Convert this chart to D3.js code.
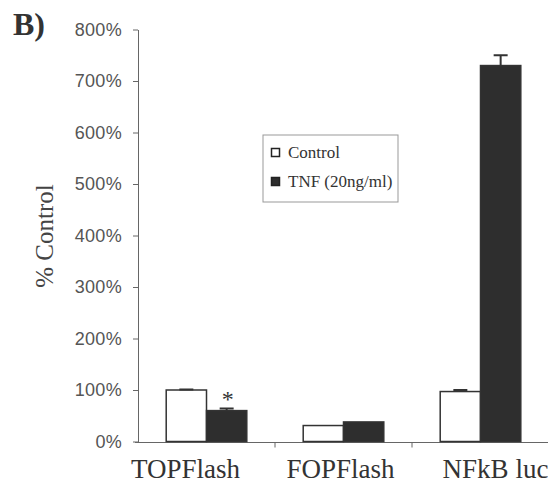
<!DOCTYPE html>
<html><head><meta charset="utf-8">
<script src="https://cdn.jsdelivr.net/npm/d3@7"></script>
<style>body{margin:0;background:#fff}</style>
</head><body>
<svg id="c" width="548" height="484"></svg>
<script>
const categories = ["TOPFlash", "FOPFlash", "NFkB luc"];
const seriesNames = ["Control", "TNF (20ng/ml)"];
const controlValues = [100, 31, 97];
const controlErrors = [1, 0, 3];
const tnfValues = [60, 38, 730];
const tnfErrors = [4, 0, 20];
const yTicks = [0, 100, 200, 300, 400, 500, 600, 700, 800];

(function () {
const svg = d3.select("#c");
const pLeft = 138, pRight = 549, pTop = 29.5, pBottom = 441.5;
const x = d3.scaleBand().domain(categories).range([pLeft, pRight]);
const xs = d3.scaleBand().domain(seriesNames).range([0, x.bandwidth()]).paddingInner(0).paddingOuter(0.7);
const y = d3.scaleLinear().domain([0, 800]).range([pBottom, pTop]);
const labelNudge = [-21, -3, 15];

// y axis
const yAxis = svg.append("g").attr("transform", `translate(${pLeft},0)`)
  .call(d3.axisLeft(y).tickValues(yTicks).tickFormat(d => d + "%").tickSize(5).tickSizeOuter(0));
yAxis.select(".domain").attr("stroke", "#666");
yAxis.selectAll(".tick line").attr("stroke", "#666");
yAxis.selectAll("text").attr("font-family", "Liberation Sans, Arial, sans-serif").attr("font-size", 18)
  .attr("letter-spacing", 0.3).attr("fill", "#555").attr("x", -16);

// x axis
const xAxis = svg.append("g").attr("transform", `translate(0,${pBottom + 1})`);
xAxis.append("line").attr("x1", pLeft - 3).attr("x2", pRight).attr("stroke", "#666");
xAxis.selectAll("line.t").data(categories.slice(1)).enter().append("line")
  .attr("x1", d => x(d)).attr("x2", d => x(d)).attr("y1", 0).attr("y2", 5).attr("stroke", "#666");
xAxis.selectAll("text").data(categories).enter().append("text")
  .attr("x", (d, i) => x(d) + x.bandwidth() / 2 + labelNudge[i]).attr("y", 35).attr("text-anchor", "middle")
  .attr("font-family", "Liberation Serif, Times New Roman, serif").attr("font-size", 27).attr("fill", "#333")
  .text(d => d);

// bars
const series = [
  {name: seriesNames[0], vals: controlValues, errs: controlErrors, fill: "#fff"},
  {name: seriesNames[1], vals: tnfValues, errs: tnfErrors, fill: "#2e2e2e"}
];
series.forEach(s => {
  const g = svg.append("g");
  g.selectAll("rect").data(categories).enter().append("rect")
    .attr("x", d => x(d) + xs(s.name))
    .attr("width", xs.bandwidth())
    .attr("y", (d, i) => y(s.vals[i]))
    .attr("height", (d, i) => y(0) - y(s.vals[i]))
    .attr("fill", s.fill).attr("stroke", "#333").attr("stroke-width", 1.5);
  g.selectAll("path.err").data(categories).enter().append("path")
    .attr("d", (d, i) => {
      if (!s.errs[i]) return null;
      const cx = x(d) + xs(s.name) + xs.bandwidth() / 2;
      const yt = y(s.vals[i] + s.errs[i]), yb = y(s.vals[i]);
      return `M${cx},${yb}V${yt}M${cx - 7},${yt}H${cx + 7}`;
    })
    .attr("stroke", "#333").attr("stroke-width", 2).attr("fill", "none");
});

// asterisk
svg.append("text").attr("x", x("TOPFlash") + xs(seriesNames[1]) + xs.bandwidth() / 2 + 1)
  .attr("y", y(tnfValues[0] + tnfErrors[0]) - 2).attr("text-anchor", "middle")
  .attr("font-family", "Liberation Serif, serif").attr("font-size", 24).attr("fill", "#333").text("*");

// legend
const lg = svg.append("g").attr("transform", "translate(263,135)");
lg.append("rect").attr("width", 135).attr("height", 67).attr("fill", "#fff").attr("stroke", "#999");
series.forEach((s, i) => {
  const yy = 18 + i * 29;
  lg.append("rect").attr("x", 8.5).attr("y", yy - 4.5).attr("width", 8).attr("height", 8)
    .attr("fill", s.fill).attr("stroke", "#222").attr("stroke-width", 1.5);
  lg.append("text").attr("x", 25).attr("y", yy + 5).attr("font-family", "Liberation Serif, serif")
    .attr("font-size", 17).attr("fill", "#333").text(s.name);
});

// y title
svg.append("text").attr("transform", "translate(53,236) rotate(-90)").attr("text-anchor", "middle")
  .attr("font-family", "Liberation Serif, serif").attr("font-size", 25).attr("fill", "#444").text("% Control");

// panel label
svg.append("text").attr("x", 13).attr("y", 35).attr("font-family", "Liberation Serif, serif")
  .attr("font-weight", "bold").attr("font-size", 32).attr("fill", "#333").text("B)");
})();
</script>
</body></html>
